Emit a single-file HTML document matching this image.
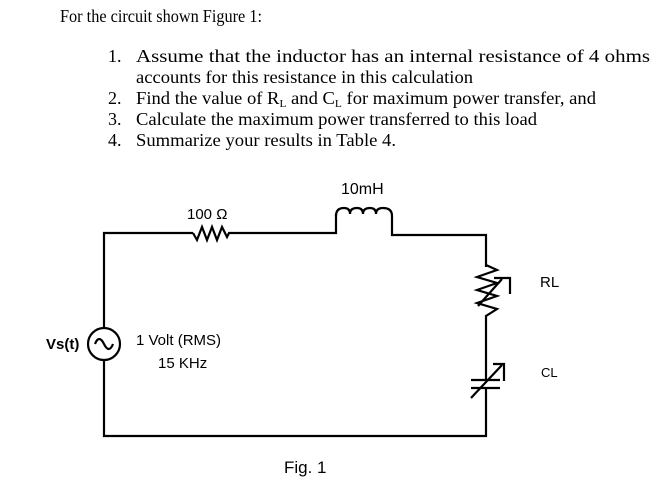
<!DOCTYPE html>
<html><head><style>body{margin:0;background:#fff}svg{display:block}</style></head><body>
<svg width="661" height="486" viewBox="0 0 661 486" xmlns="http://www.w3.org/2000/svg">
<g font-family="Liberation Serif, serif" font-size="18" fill="#000">
<text x="60" y="22" textLength="202" lengthAdjust="spacingAndGlyphs">For the circuit shown Figure 1:</text>
<text x="108" y="62">1.</text>
<text x="136" y="62" textLength="514" lengthAdjust="spacingAndGlyphs">Assume that the inductor has an internal resistance of 4 ohms</text>
<text x="136" y="83" textLength="337" lengthAdjust="spacingAndGlyphs">accounts for this resistance in this calculation</text>
<text x="108" y="104">2.</text>
<text x="136" y="104" textLength="460" lengthAdjust="spacingAndGlyphs">Find the value of R<tspan font-size="11" dy="3">L</tspan><tspan dy="-3"> and C</tspan><tspan font-size="11" dy="3">L</tspan><tspan dy="-3"> for maximum power transfer, and</tspan></text>
<text x="108" y="125">3.</text>
<text x="136" y="125" textLength="401" lengthAdjust="spacingAndGlyphs">Calculate the maximum power transferred to this load</text>
<text x="108" y="146">4.</text>
<text x="136" y="146" textLength="260" lengthAdjust="spacingAndGlyphs">Summarize your results in Table 4.</text>
</g>
<g fill="none" stroke="#000" stroke-width="2.2">
<polyline points="104,328 104,233 193,233"/>
<polyline points="193,233 197,240 202,227 207,240 212,227 217,240 222,227 227,237 229,233 336,233 336,214"/>
<path d="M336,216 q0,-8 8,-8 q6,0 6,6 q0,-6 7,-6 q6,0 6,6 q0,-6 7,-6 q6,0 6,6 q0,-6 7,-6 q9,0 9,8 v19 h94 v32"/>
<polyline points="486,265 497,270 477,277 497,283 477,290 497,296 477,303 497,309 486,316 486,362"/>
<polyline points="478,306 502,279"/>
<polyline points="494,278 510,278 510,294"/>
<line x1="486" y1="362" x2="486" y2="380"/>
<line x1="471" y1="380" x2="500" y2="380"/>
<line x1="471" y1="388" x2="500" y2="388"/>
<line x1="471" y1="398" x2="502" y2="365"/>
<polyline points="493,364 504,364 504,381"/>
<polyline points="486,388 486,436 104,436 104,360"/>
<circle cx="104" cy="344" r="16"/>
<path d="M95,344 q4,-10 9,0 q5,10 9,0"/>
</g>
<g font-family="Liberation Sans, DejaVu Sans, sans-serif" font-size="15" fill="#000">
<text x="187" y="219">100 Ω</text>
<text x="341" y="194" font-size="16">10mH</text>
<text x="540" y="287">RL</text>
<text x="541" y="377" font-size="13">CL</text>
<text x="136" y="345">1 Volt (RMS)</text>
<text x="158" y="368">15 KHz</text>
<text x="46" y="349" font-weight="bold">Vs(t)</text>
<text x="284" y="473" font-size="17">Fig. 1</text>
</g>
</svg>
</body></html>
